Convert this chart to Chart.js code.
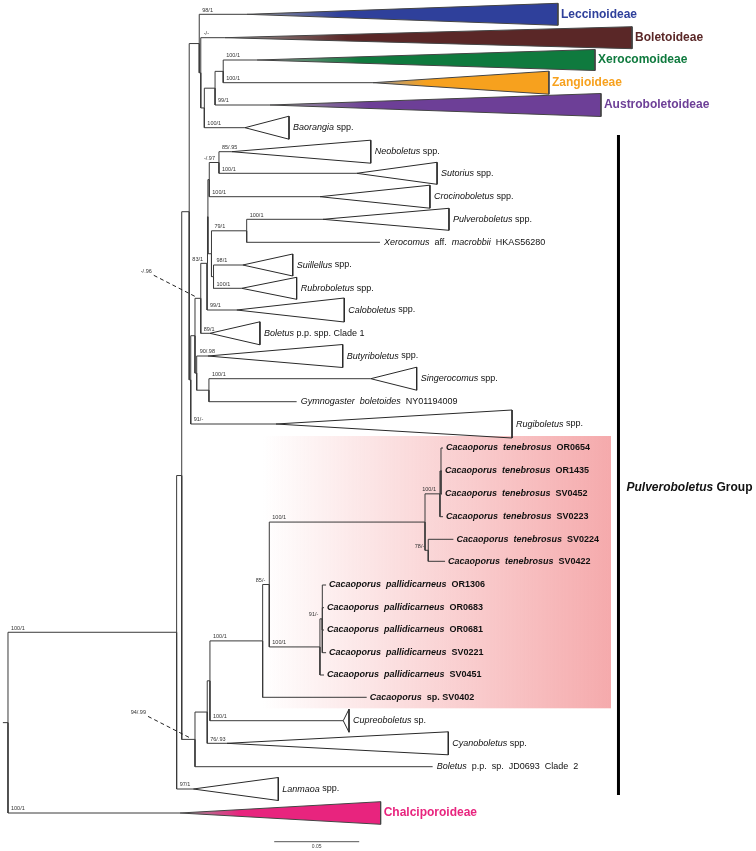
<!DOCTYPE html>
<html>
<head>
<meta charset="utf-8">
<script src="https://cdn.jsdelivr.net/npm/chart.js@4.4.1/dist/chart.umd.min.js"></script>
<style>
    html, body { margin: 0; padding: 0; background: #ffffff; }
    canvas { display: block; }
</style>
</head>
<body>
<canvas id="treeChart" width="756" height="851"></canvas>
<script>
// internal nodes of the tree (depth in substitutions/site from the root)
const nodeIds     = ["root", "N1", "N2", "U", "T", "S", "P", "Q", "R", "W", "Z0", "Z1", "K2", "K3", "K4", "NS", "K1", "N79", "SR", "B1", "Sg", "V", "V2", "V3", "C0", "C1", "T0", "T1", "Tx", "T2", "P0", "P1"];
const nodeParents = [null, "root", "N1", "N2", "U", "T", "S", "P", "Q", "U", "W", "Z0", "Z1", "K2", "K3", "K4", "K3", "K1", "K1", "Z0", "B1", "N2", "V", "V2", "V3", "C0", "C1", "T0", "T1", "T0", "C1", "P0"];
const nodeDepths  = [0, 0.0992, 0.1022, 0.1066, 0.1125, 0.1134, 0.1155, 0.1218, 0.1266, 0.1075, 0.1100, 0.1134, 0.1171, 0.1176, 0.1184, 0.1241, 0.1197, 0.1404, 0.1209, 0.1110, 0.1182, 0.1100, 0.1172, 0.1188, 0.1498, 0.1537, 0.2453, 0.2541, 0.2547, 0.2472, 0.1835, 0.1849];
const nodeSupport = ["", "100/1", "", "", "", "", "", "", "", "", "", "", "83/1", "", "", "-/.97", "", "79/1", "", "", "", "", "", "", "100/1", "85/-", "100/1", "100/1", "", "78/-", "100/1", "91/-"];

// tips and collapsed clades
const tipNames = [
    "Leccinoideae", "Boletoideae", "Xerocomoideae", "Zangioideae", "Austroboletoideae",
    "Baorangia spp.", "Neoboletus spp.", "Sutorius spp.", "Crocinoboletus spp.", "Pulveroboletus spp.",
    "Xerocomus  aff.  macrobbii  HKAS56280", "Suillellus spp.", "Rubroboletus spp.", "Caloboletus spp.", "Boletus p.p. spp. Clade 1",
    "Butyriboletus spp.", "Singerocomus spp.", "Gymnogaster  boletoides  NY01194009", "Rugiboletus spp.",
    "Cacaoporus  tenebrosus  OR0654", "Cacaoporus  tenebrosus  OR1435", "Cacaoporus  tenebrosus  SV0452",
    "Cacaoporus  tenebrosus  SV0223", "Cacaoporus  tenebrosus  SV0224", "Cacaoporus  tenebrosus  SV0422",
    "Cacaoporus  pallidicarneus  OR1306", "Cacaoporus  pallidicarneus  OR0683", "Cacaoporus  pallidicarneus  OR0681",
    "Cacaoporus  pallidicarneus  SV0221", "Cacaoporus  pallidicarneus  SV0451",
    "Cacaoporus  sp. SV0402", "Cupreoboletus sp.", "Cyanoboletus spp.", "Boletus  p.p.  sp.  JD0693  Clade  2",
    "Lanmaoa spp.", "Chalciporoideae"
];
const tipParents = ["T", "S", "R", "R", "Q", "P", "NS", "NS", "K4", "N79", "N79", "SR", "SR", "K2", "Z1", "B1", "Sg", "Sg", "W",
    "Tx", "Tx", "Tx", "T1", "T2", "T2", "P1", "P1", "P1", "P1", "P0", "C0", "V3", "V2", "V", "N1", "root"];
const tipRows = [14.3, 37.7, 60, 82.7, 105, 127.7, 151.7, 173.3, 196.7, 219.3, 242.3, 265, 288.3, 310, 333.3, 356, 378.7, 401.7, 424,
    448, 471, 494, 516.7, 539.3, 561.3, 585, 607.7, 630, 652.7, 675, 697.3, 720.7, 743.3, 766.7, 789, 813];
const tipDepths = [0.1406, 0.1276, 0.1465, 0.2147, 0.1541, 0.1394, 0.1316, 0.2051, 0.1835, 0.1853, 0.2188, 0.1381, 0.1375, 0.1345, 0.1188,
    0.1176, 0.2134, 0.1698, 0.1576, 0.2559, 0.2553, 0.2553, 0.2559, 0.2620, 0.2571, 0.1871, 0.1859, 0.1859, 0.1871, 0.1859,
    0.2110, 0.1972, 0.1288, 0.2498, 0.1090, 0.1012];
const cladeEnds = [0.3235, 0.3671, 0.3453, 0.3182, 0.3488, 0.1653, 0.2134, 0.2524, 0.2482, 0.2594, null, 0.1675, 0.1698, 0.1978, 0.1482,
    0.1969, 0.2404, null, 0.2965, null, null, null, null, null, null, null, null, null, null, null,
    null, 0.2006, 0.2590, null, 0.1590, 0.2192];
const cladeHalfHeights = [11, 11, 10.5, 11.5, 11.5, 11.5, 11.5, 11, 11.5, 11, 0, 11, 11, 12, 11.5, 11.5, 11.5, 0, 14,
    0, 0, 0, 0, 0, 0, 0, 0, 0, 0, 0, 0, 11.5, 11.5, 0, 11.5, 11.3];
const tipSupport = ["98/1", "-/-", "100/1", "100/1", "99/1", "100/1", "85/.95", "100/1", "100/1", "100/1", "", "98/1", "100/1", "99/1", "89/1",
    "90/.98", "100/1", "", "91/-", "", "", "", "", "", "", "", "", "", "", "", "", "100/1", "76/.93", "", "97/1", "100/1"];

const subfamilyColors = {
    Leccinoideae: "#2f409b",
    Boletoideae: "#5a2727",
    Xerocomoideae: "#0f7a3e",
    Zangioideae: "#f7a11e",
    Austroboletoideae: "#6d3f97",
    Chalciporoideae: "#e8247e"
};

const pointerNodes = ["Z1", "V"];
const pointerTexts = ["-/.96", "94/.99"];

const highlightNode = "C0";
const highlightEnd = 0.3547;
const groupBarDepth = 0.3591;
const groupBarRows = [135, 795];
const groupLabelRow = 488;
const scaleBarStart = 0.1566;
const scaleBarLength = 0.05;
const scaleBarRow = 841.7;

const FONT = "'Liberation Sans', Arial, sans-serif";
const branchColor = "#3a3a3a";

// build the tree
const nodeMap = {};
nodeIds.forEach(function (id, i) {
    nodeMap[id] = { id: id, parent: nodeParents[i], x: nodeDepths[i], support: nodeSupport[i], children: [], tip: false };
});
nodeIds.forEach(function (id) {
    const p = nodeMap[id].parent;
    if (p) nodeMap[p].children.push(nodeMap[id]);
});
const tips = tipNames.map(function (name, i) {
    const t = {
        name: name, parent: tipParents[i], x: tipDepths[i], y: tipRows[i], end: cladeEnds[i],
        half: cladeHalfHeights[i], support: tipSupport[i], tip: true, color: subfamilyColors[name] || null
    };
    nodeMap[t.parent].children.push(t);
    return t;
});

function layoutY(n) {
    if (n.tip) return n.y;
    const ys = n.children.map(layoutY);
    n.y = (Math.min.apply(null, ys) + Math.max.apply(null, ys)) / 2;
    return n.y;
}
layoutY(nodeMap.root);

function collectTips(n) {
    if (n.tip) return [n];
    return n.children.reduce(function (acc, c) { return acc.concat(collectTips(c)); }, []);
}

const allChildren = nodeIds.filter(function (id) { return id !== "root"; }).map(function (id) { return nodeMap[id]; }).concat(tips);

const datasets = [];

// root stub
datasets.push({
    data: [{ x: -0.003, y: nodeMap.root.y }, { x: 0, y: nodeMap.root.y }],
    borderColor: branchColor, borderWidth: 1, pointRadius: 0, fill: false
});

// branches
allChildren.forEach(function (c) {
    const p = nodeMap[c.parent];
    datasets.push({
        data: [{ x: p.x, y: p.y }, { x: p.x, y: c.y }, { x: c.x, y: c.y }],
        borderColor: branchColor, borderWidth: 1, pointRadius: 0, fill: false
    });
});

// single taxa: branch to the end of the leaf
tips.filter(function (t) { return t.end === null; }).forEach(function (t) { t.labelX = t.x; });

// collapsed clades
tips.filter(function (t) { return t.end !== null; }).forEach(function (t) {
    t.labelX = t.end;
    datasets.push({
        data: [{ x: t.x, y: t.y }, { x: t.end, y: t.y - t.half }, { x: t.end, y: t.y + t.half }, { x: t.x, y: t.y }],
        borderColor: t.color ? "#444444" : "#2a2a2a",
        borderWidth: 1,
        pointRadius: 0,
        fill: t.color ? "shape" : false,
        backgroundColor: function (context) {
            if (!t.color) return "rgba(0,0,0,0)";
            const chart = context.chart;
            const xs = chart.scales.x;
            if (!xs || !xs.width) return t.color;
            const x0 = xs.getPixelForValue(t.x);
            const x1 = xs.getPixelForValue(t.end);
            const g = chart.ctx.createLinearGradient(x0, 0, x1, 0);
            g.addColorStop(0, "#9a9a9a");
            g.addColorStop(0.3, t.color);
            g.addColorStop(1, t.color);
            return g;
        }
    });
});

// Pulveroboletus group bar
datasets.push({
    data: [{ x: groupBarDepth, y: groupBarRows[0] }, { x: groupBarDepth, y: groupBarRows[1] }],
    borderColor: "#000000", borderWidth: 3, pointRadius: 0, fill: false
});

// scale bar
datasets.push({
    data: [{ x: scaleBarStart, y: scaleBarRow }, { x: scaleBarStart + scaleBarLength, y: scaleBarRow }],
    borderColor: "#555555", borderWidth: 1, pointRadius: 0, fill: false
});

function drawTaxon(ctx, text, x, y, size, weight, useItalics) {
    const parts = text.split(/( +)/);
    let cx = x;
    let wordIndex = 0;
    parts.forEach(function (part) {
        if (part === "") return;
        if (/^ +$/.test(part)) {
            ctx.font = weight + " " + size + "px " + FONT;
            cx += ctx.measureText(part).width;
            return;
        }
        const italic = useItalics && (wordIndex === 0 || /^[a-z]{4,}$/.test(part));
        ctx.font = (italic ? "italic " : "") + weight + " " + size + "px " + FONT;
        ctx.fillText(part, cx, y);
        cx += ctx.measureText(part).width;
        wordIndex++;
    });
}

const treeDecorPlugin = {
    id: "treeDecor",
    beforeDatasetsDraw: function (chart) {
        const ctx = chart.ctx;
        const xs = chart.scales.x;
        const ys = chart.scales.y;
        const clade = nodeMap[highlightNode];
        const leaves = collectTips(clade);
        const top = ys.getPixelForValue(Math.min.apply(null, leaves.map(function (t) { return t.y; }))) - 12;
        const bottom = ys.getPixelForValue(Math.max.apply(null, leaves.map(function (t) { return t.y; }))) + 11;
        const left = xs.getPixelForValue(clade.x);
        const right = xs.getPixelForValue(highlightEnd);

        ctx.save();
        const g = ctx.createLinearGradient(left, 0, right, 0);
        g.addColorStop(0, "rgba(245,170,172,0)");
        g.addColorStop(1, "rgba(245,170,172,1)");
        ctx.fillStyle = g;
        ctx.fillRect(left, top, right - left, bottom - top);
        ctx.restore();
    },
    afterDatasetsDraw: function (chart) {
        const ctx = chart.ctx;
        const xs = chart.scales.x;
        const ys = chart.scales.y;

        ctx.save();
        ctx.textBaseline = "middle";

        // tip labels
        tips.forEach(function (t) {
            const px = xs.getPixelForValue(t.labelX);
            const py = ys.getPixelForValue(t.y);
            if (t.color) {
                ctx.fillStyle = t.color;
                ctx.font = "bold 12px " + FONT;
                ctx.textAlign = "left";
                ctx.fillText(t.name, px + 3, py);
            } else if (t.name.indexOf("Cacaoporus") === 0) {
                ctx.fillStyle = "#111111";
                ctx.textAlign = "left";
                drawTaxon(ctx, t.name, px + 3, py, 9, "bold", true);
            } else {
                ctx.fillStyle = "#111111";
                ctx.textAlign = "left";
                drawTaxon(ctx, t.name, px + 4, py, 9, "normal", true);
            }
        });

        // support values
        ctx.fillStyle = "#333333";
        ctx.font = "5.5px " + FONT;
        ctx.textBaseline = "bottom";
        allChildren.forEach(function (c) {
            if (!c.support) return;
            const p = nodeMap[c.parent];
            const ppx = xs.getPixelForValue(p.x);
            const cpx = xs.getPixelForValue(c.x);
            const py = ys.getPixelForValue(c.y) - 1.5;
            if (!c.tip && cpx - ppx < 20) {
                ctx.textAlign = "right";
                ctx.fillText(c.support, cpx - 4, py);
            } else {
                ctx.textAlign = "left";
                ctx.fillText(c.support, ppx + 3, py);
            }
        });

        // dashed pointers to short internodes
        pointerNodes.forEach(function (id, i) {
            const n = nodeMap[id];
            const nx = xs.getPixelForValue(n.x);
            const ny = ys.getPixelForValue(n.y);
            ctx.strokeStyle = "#222222";
            ctx.lineWidth = 1;
            ctx.setLineDash([4, 3]);
            ctx.beginPath();
            ctx.moveTo(nx - 47, ny - 23);
            ctx.lineTo(nx - 4, ny - 1);
            ctx.stroke();
            ctx.setLineDash([]);
            ctx.textAlign = "right";
            ctx.textBaseline = "middle";
            ctx.fillText(pointerTexts[i], nx - 49, ny - 27);
        });

        // group label
        const gx = xs.getPixelForValue(groupBarDepth) + 8;
        const gy = ys.getPixelForValue(groupLabelRow);
        ctx.fillStyle = "#111111";
        ctx.textAlign = "left";
        ctx.textBaseline = "middle";
        ctx.font = "italic bold 12px " + FONT;
        ctx.fillText("Pulveroboletus", gx, gy);
        const w = ctx.measureText("Pulveroboletus ").width;
        ctx.font = "bold 12px " + FONT;
        ctx.fillText("Group", gx + w, gy);

        // scale bar label
        ctx.fillStyle = "#444444";
        ctx.font = "5px " + FONT;
        ctx.textAlign = "center";
        ctx.fillText(scaleBarLength.toFixed(2), xs.getPixelForValue(scaleBarStart + scaleBarLength / 2), ys.getPixelForValue(scaleBarRow) + 5);

        ctx.restore();
    }
};

new Chart(document.getElementById("treeChart"), {
    type: "line",
    plugins: [treeDecorPlugin],
    data: { datasets: datasets },
    options: {
        responsive: false,
        maintainAspectRatio: false,
        animation: false,
        devicePixelRatio: 1,
        layout: { padding: 0 },
        elements: { line: { tension: 0 } },
        plugins: {
            legend: { display: false },
            tooltip: { enabled: false }
        },
        scales: {
            x: { type: "linear", min: -0.0047, max: 0.44, display: false },
            y: { type: "linear", min: 0, max: 851, reverse: true, display: false }
        }
    }
});
</script>
</body>
</html>
